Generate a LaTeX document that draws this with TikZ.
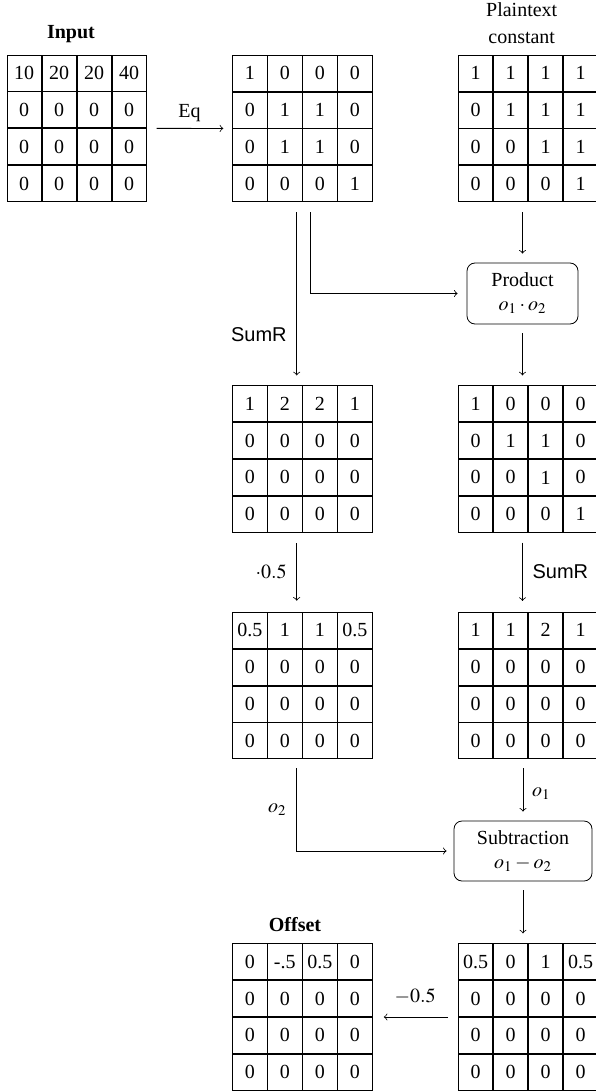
\documentclass[tikz,border=0pt]{standalone}
\usepackage{mathptmx}
\usepackage{fontspec}
\setmainfont{Liberation Serif}
\newfontfamily\sumfont{Liberation Sans}
\usetikzlibrary{matrix,calc}
\tikzset{
  mat/.style={matrix of nodes, inner sep=0pt, outer sep=0pt, anchor=center,
    column sep=0pt, row sep=0pt,
    nodes={draw, minimum width=17.1pt, minimum height=18pt, inner sep=0pt,
      outer sep=0pt, anchor=center}},
  opbox/.style={draw, rounded corners=4pt, align=center, inner sep=0pt},
  title/.style={font=\bfseries, anchor=base},
  lab/.style={font=\sumfont},
  flow/.style={->},
}
\begin{document}
\begin{tikzpicture}[x=0.5pt, y=-0.5pt]
\useasboundingbox (0,0) rectangle (595,1091);

% titles
\node[title] (tin) at (71,38.3) {Input};
\node[align=center, font=\fontsize{10}{13.3}\selectfont, anchor=base] (tpc) at (521.7,43.3) {Plaintext\\constant};
\node[title] (toff) at (295,931.7) {Offset};

% matrices
\matrix (in) [mat] at (76.7,128.3) {
10 & 20 & 20 & 40 \\
0 & 0 & 0 & 0 \\
0 & 0 & 0 & 0 \\
0 & 0 & 0 & 0 \\
};
\matrix (eq) [mat] at (302.3,128.5) {
1 & 0 & 0 & 0 \\
0 & 1 & 1 & 0 \\
0 & 1 & 1 & 0 \\
0 & 0 & 0 & 1 \\
};
\matrix (pc) [mat] at (528,128.5) {
1 & 1 & 1 & 1 \\
0 & 1 & 1 & 1 \\
0 & 0 & 1 & 1 \\
0 & 0 & 0 & 1 \\
};
\matrix (sum1) [mat] at (302.3,459) {
1 & 2 & 2 & 1 \\
0 & 0 & 0 & 0 \\
0 & 0 & 0 & 0 \\
0 & 0 & 0 & 0 \\
};
\matrix (prod) [mat] at (528,459) {
1 & 0 & 0 & 0 \\
0 & 1 & 1 & 0 \\
0 & 0 & 1 & 0 \\
0 & 0 & 0 & 1 \\
};
\matrix (half) [mat] at (302.3,685.5) {
0.5 & 1 & 1 & 0.5 \\
0 & 0 & 0 & 0 \\
0 & 0 & 0 & 0 \\
0 & 0 & 0 & 0 \\
};
\matrix (sum2) [mat] at (528,685.5) {
1 & 1 & 2 & 1 \\
0 & 0 & 0 & 0 \\
0 & 0 & 0 & 0 \\
0 & 0 & 0 & 0 \\
};
\matrix (res) [mat] at (528,1017) {
0.5 & 0 & 1 & 0.5 \\
0 & 0 & 0 & 0 \\
0 & 0 & 0 & 0 \\
0 & 0 & 0 & 0 \\
};
\matrix (off) [mat] at (302.3,1017) {
0 & -.5 & 0.5 & 0 \\
0 & 0 & 0 & 0 \\
0 & 0 & 0 & 0 \\
0 & 0 & 0 & 0 \\
};

% operation boxes
\node[opbox, minimum width=55.5pt, minimum height=30.5pt] (prodbox) at (522.5,293.5) {Product\\$o_1\cdot o_2$};
\node[opbox, minimum width=69pt, minimum height=30pt] (subbox) at (523,851) {Subtraction\\$o_1-o_2$};

% connectors
\draw[flow, shorten <=5pt, shorten >=4.5pt] (in) -- node[above]{Eq} (eq);
\draw[flow] ($(eq.south)+(-2.8pt,-5pt)$) -- node[lab, pos=0.75, left=1.5pt]{SumR} ($(sum1.north)+(-2.8pt,5pt)$);
\draw[flow] ($(eq.south)+(4pt,-5pt)$) |- ($(prodbox.west)+(-4.5pt,0)$);
\draw[flow] ($(pc.south -| prodbox.north)+(0,-5pt)$) -- ($(prodbox.north)+(0,4.5pt)$);
\draw[flow] ($(prodbox.south)+(0,-4.5pt)$) -- ($(prod.north -| prodbox.south)+(0,5pt)$);
\draw[flow] ($(sum1.south)+(-2.8pt,-5.3pt)$) -- node[left=1.5pt]{$\cdot 0.5$} ($(half.north)+(-2.8pt,5.6pt)$);
\draw[flow] ($(prod.south -| prodbox.south)+(0,-5pt)$) -- node[lab, right=1.5pt]{SumR} ($(sum2.north -| prodbox.south)+(0,5.5pt)$);
\draw[flow] ($(half.south)+(-2.8pt,-4.5pt)$) |- node[pos=0.25, left=1.5pt]{$o_2$} ($(subbox.west)+(-3.5pt,0)$);
\draw[flow] ($(sum2.south -| subbox.north)+(0,-4.5pt)$) -- node[pos=0.58, right=1pt]{$o_1$} ($(subbox.north)+(0,4.5pt)$);
\draw[flow] ($(subbox.south)+(0,-4.5pt)$) -- ($(res.north -| subbox.south)+(0,5pt)$);
\draw[flow, shorten <=5pt, shorten >=5.75pt] (res) -- node[above=2.7pt]{$-0.5$} (off);
\end{tikzpicture}
\end{document}
